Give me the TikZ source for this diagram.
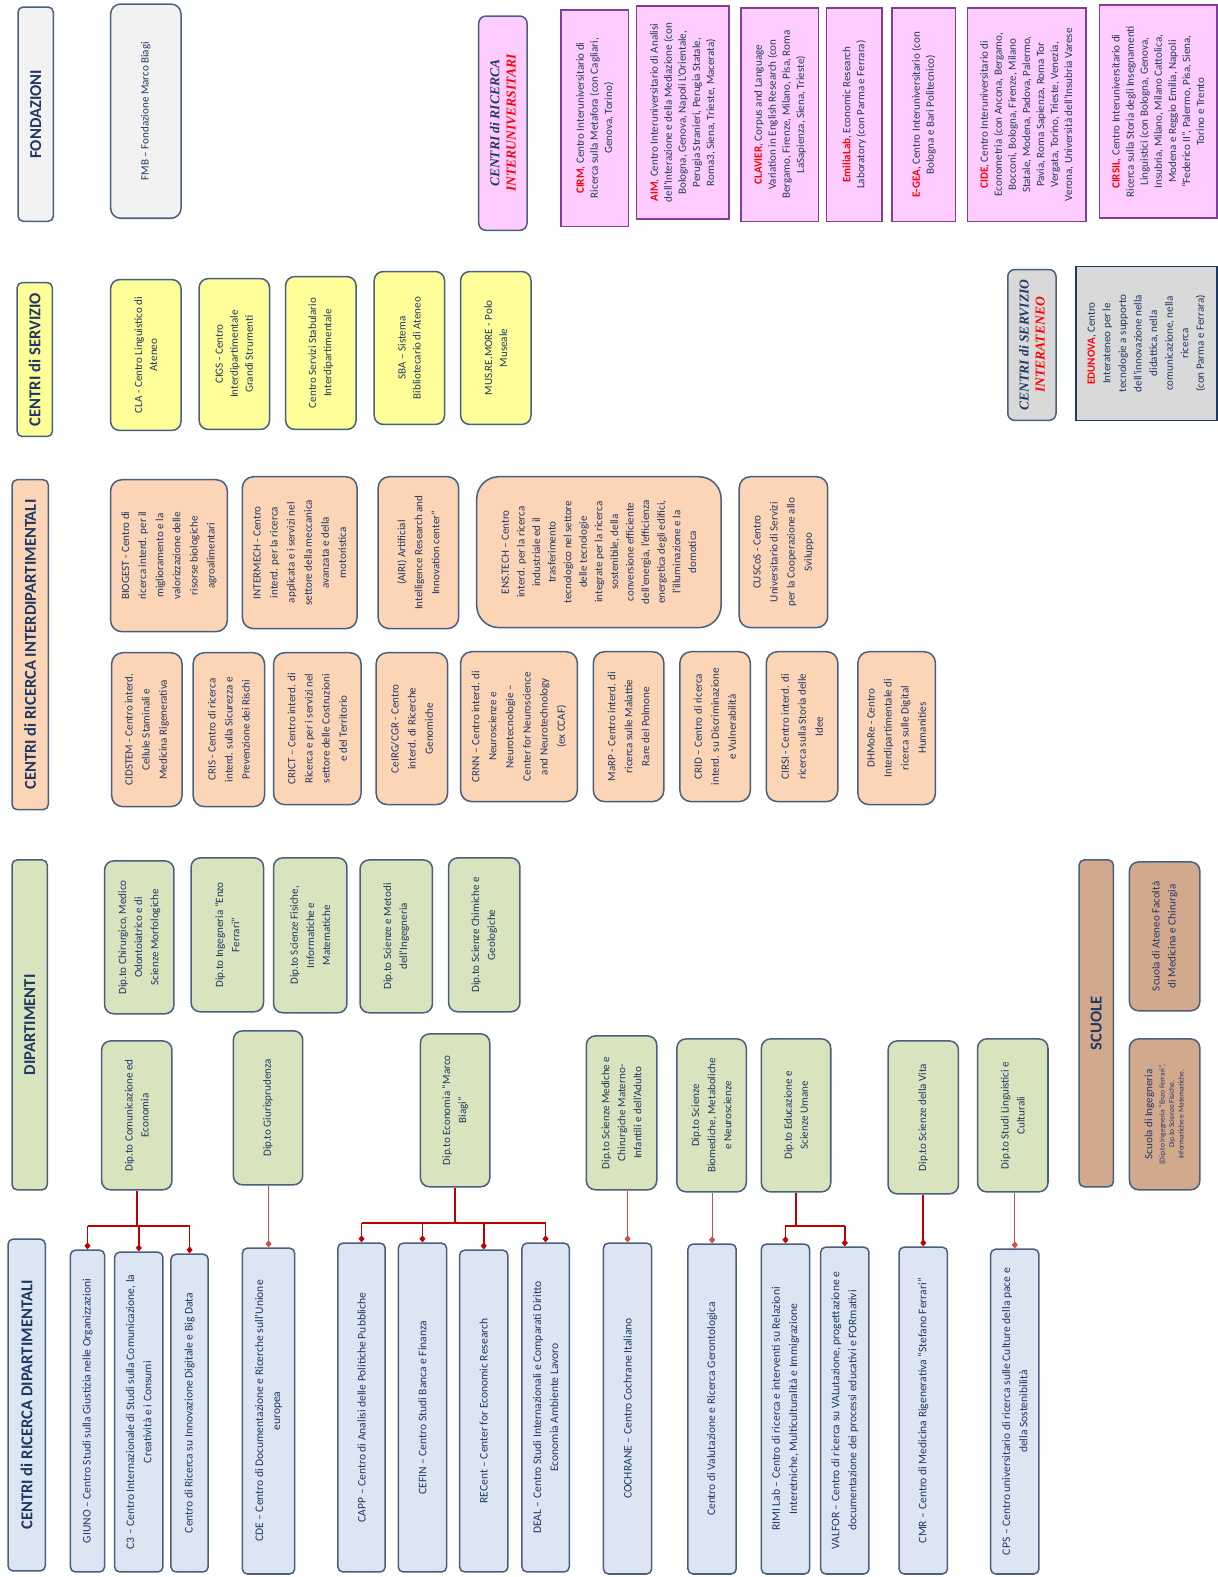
\documentclass[tikz,border=0pt]{standalone}
\usepackage{fontspec}
\setmainfont{Carlito}
\newfontfamily\titleserif{Liberation Serif}
\usetikzlibrary{arrows.meta,calc}
\definecolor{Navy}{HTML}{1F3864}
\definecolor{Edge}{HTML}{4A5F7E}
\definecolor{Sky}{HTML}{DCE6F2}
\definecolor{Sage}{HTML}{D7E4BD}
\definecolor{Peach}{HTML}{FBD5B5}
\definecolor{Canary}{HTML}{FFFF99}
\definecolor{Mist}{HTML}{F2F2F2}
\definecolor{Orchid}{HTML}{FFCCFF}
\definecolor{Plum}{HTML}{7F3F98}
\definecolor{Tan}{HTML}{D3A98E}
\definecolor{Stone}{HTML}{D9D9D9}
\definecolor{Crimson}{HTML}{C00000}
\definecolor{Signal}{HTML}{FF0000}
\newcommand{\redname}[1]{\textcolor{Signal}{\bfseries #1}}
\newcommand{\smallline}[1]{{\fontsize{7.5}{8.5}\selectfont #1}}

\begin{document}
\begin{tikzpicture}[x=1pt,y=-1pt,
    every node/.style={rotate=90,align=center,text=Navy,inner sep=2pt,
      font=\fontsize{11}{15}\selectfont},
    head/.style={draw=Edge,line width=1.5pt,rounded corners=5pt,
      font=\fontsize{16.5}{18}\selectfont\bfseries},
    serifhead/.style={draw=Edge,line width=1.5pt,rounded corners=7pt,
      font=\titleserif\fontsize{13.5}{16}\selectfont\bfseries\itshape},
    leaf/.style={draw=Edge,fill=Sky,line width=1.5pt,rounded corners=5pt,
      font=\fontsize{11.5}{17}\selectfont},
    dept/.style={draw=Edge,fill=Sage,line width=1.5pt,rounded corners=9pt,
      font=\fontsize{11}{16}\selectfont},
    inter/.style={draw=Edge,fill=Peach,line width=1.5pt,rounded corners=11pt,
      font=\fontsize{11}{17}\selectfont},
    serv/.style={draw=Edge,fill=Canary,line width=1.5pt,rounded corners=9pt},
    univ/.style={draw=Plum,fill=Orchid,line width=1.5pt,
      font=\fontsize{11}{14}\selectfont},
    trunk/.style={draw=Crimson,line width=1.6pt},
    flow/.style={-{Diamond[length=7pt,width=6pt]},draw=Crimson,line width=1.6pt},
    flowlite/.style={flow,draw=Crimson!70,line width=1pt}]
  \fill[white] (0,0) rectangle (1211,1568);
  \useasboundingbox (0,0) rectangle (1211,1568);

  % fondazioni, servizi, interuniversitari
  \node[head,fill=Mist,minimum width=213pt,minimum height=35pt] (hfond) at (35.5,113.5) {FONDAZIONI};
  \node[draw=Edge,fill=Mist,line width=1.5pt,rounded corners=10pt,minimum width=213pt,minimum height=70pt] (fmb) at (145,110.5) {FMB – Fondazione Marco Biagi};
  \node[head,fill=Canary,minimum width=153pt,minimum height=35pt] (hserv) at (34.5,357.5) {CENTRI di SERVIZIO};
  \node[serv,minimum width=150pt,minimum height=70pt] (cla) at (145,353) {CLA - Centro Linguistico di\\Ateneo};
  \node[serv,minimum width=150pt,minimum height=70pt] (cigs) at (233,352) {CIGS - Centro\\Interdipartimentale\\Grandi Strumenti};
  \node[serv,minimum width=152pt,minimum height=70pt] (stab) at (319,351) {Centro Servizi Stabulario\\Interdipartimentale};
  \node[serv,minimum width=152pt,minimum height=70pt] (sba) at (407,346) {SBA – Sistema\\Bibliotecario di Ateneo};
  \node[serv,minimum width=152pt,minimum height=70pt] (musre) at (493,346) {MUS.RE.MORE - Polo\\Museale};

  \node[serifhead,fill=Orchid,minimum width=213pt,minimum height=48pt] (huniv) at (500,122.5) {CENTRI di RICERCA\\\textcolor{Signal}{INTERUNIVERSITARI}};
  \node[univ,minimum width=215pt,minimum height=67pt] (cirm) at (591.5,117.5) {\redname{CIRM}, Centro Interuniversitario di\\Ricerca sulla Metafora (con Cagliari,\\Genova, Torino)};
  \node[univ,minimum width=212pt,minimum height=92pt] (aim) at (679,112) {\redname{AIM}, Centro Interuniversitario di Analisi\\dell'Interazione e della Mediazione (con\\Bologna, Genova, Napoli L'Orientale,\\Perugia Stranieri, Perugia Statale,\\Roma3, Siena, Trieste, Macerata)};
  \node[univ,minimum width=212pt,minimum height=77pt] (clavier) at (775.5,114) {\redname{CLAVIER}, Corpus and Language\\Variation in English Research (con\\Bergamo, Firenze, Milano, Pisa, Roma\\LaSapienza, Siena, Trieste)};
  \node[univ,minimum width=212pt,minimum height=55pt] (emilia) at (849.5,114) {\redname{EmiliaLab}, Economic Research\\Laboratory (con Parma e Ferrara)};
  \node[univ,minimum width=212pt,minimum height=63pt] (egea) at (918.5,114) {\redname{E-GEA}, Centro Interuniversitario (con\\Bologna e Bari Politecnico)};
  \node[univ,minimum width=212pt,minimum height=118pt] (cide) at (1021,114) {\redname{CIDE}, Centro Interuniversitario di\\Econometria (con Ancona, Bergamo,\\Bocconi, Bologna, Firenze, Milano\\Statale, Modena, Padova, Palermo,\\Pavia, Roma Sapienza, Roma Tor\\Vergata, Torino, Trieste, Venezia,\\Verona, Università dell'Insubria Varese};
  \node[univ,minimum width=212pt,minimum height=117pt] (cirsil) at (1151.5,111) {\redname{CIRSIL}, Centro Interuniversitario di\\Ricerca sulla Storia degli Insegnamenti\\Linguistici (con Bologna, Genova,\\Insubria, Milano, Milano Cattolica,\\Modena e Reggio Emilia, Napoli\\“Federico II”, Palermo, Pisa, Siena,\\Torino e Trento};

  \node[serifhead,fill=Stone,minimum width=150pt,minimum height=48pt] (hateneo) at (1026,343) {CENTRI di SERVIZIO\\\textcolor{Signal}{INTERATENEO}};
  \node[draw=Navy,fill=Stone,line width=1.5pt,font=\fontsize{11}{15.5}\selectfont,minimum width=153pt,minimum height=140pt] (edunova) at (1140,341.5) {\redname{EDUNOVA}, Centro\\Interateneo per le\\tecnologie a supporto\\dell'innovazione nella\\didattica, nella\\comunicazione, nella\\ricerca\\(con Parma e Ferrara)};

  % centri interdipartimentali
  \node[head,fill=Peach,minimum width=328pt,minimum height=36pt] (hinter) at (30,641) {CENTRI di RICERCA INTERDIPARTIMENTALI};
  \node[inter,minimum width=151pt,minimum height=116pt] (biogest) at (168,552.5) {BIOGEST - Centro di\\ricerca interd. per il\\miglioramento e la\\valorizzazione delle\\risorse biologiche\\agroalimentari};
  \node[inter,minimum width=151pt,minimum height=114pt] (intermech) at (298,549.5) {INTERMECH - Centro\\interd. per la ricerca\\applicata e i servizi nel\\settore della meccanica\\avanzata e della\\motoristica};
  \node[inter,minimum width=151pt,minimum height=80pt] (airi) at (416,549.5) {(AIRI) Artificial\\Intelligence Research and\\Innovation center”};
  \node[inter,rounded corners=22pt,font=\fontsize{11}{15.5}\selectfont,minimum width=150pt,minimum height=243pt] (enstech) at (595.5,549) {ENS.TECH – Centro\\interd. per la ricerca\\industriale ed il\\trasferimento\\tecnologico nel settore\\delle tecnologie\\integrate per la ricerca\\sostenibile, della\\conversione efficiente\\dell'energia, l'efficienza\\energetica degli edifici,\\l'illuminazione e la\\domotica};
  \node[inter,minimum width=150pt,minimum height=88pt] (cuscos) at (779,549) {CUSCoS - Centro\\Universitario di Servizi\\per la Cooperazione allo\\Sviluppo};
  \node[inter,minimum width=153pt,minimum height=70pt] (cidstem) at (146,725.5) {CIDSTEM - Centro interd.\\Cellule Staminali e\\Medicina Rigenerativa};
  \node[inter,minimum width=153pt,minimum height=71pt] (cris) at (227.5,725.5) {CRIS - Centro di ricerca\\interd. sulla Sicurezza e\\Prevenzione dei Rischi};
  \node[inter,minimum width=151pt,minimum height=87pt] (crict) at (315.5,724.5) {CRICT – Centro interd. di\\Ricerca e per i servizi nel\\settore delle Costruzioni\\e del Territorio};
  \node[inter,minimum width=151pt,minimum height=71pt] (ceirg) at (409.5,724.5) {CeIRG/CGR - Centro\\interd. di Ricerche\\Genomiche};
  \node[inter,minimum width=149pt,minimum height=116pt] (crnn) at (516,722.5) {CRNN – Centro interd. di\\Neuroscienze e\\Neurotecnologie –\\Center for Neuroscience\\and Neurotechnology\\(ex CCAF)};
  \node[inter,minimum width=149pt,minimum height=70pt] (marp) at (625,722.5) {MaRP - Centro interd. di\\ricerca sulle Malattie\\Rare del Polmone};
  \node[inter,minimum width=149pt,minimum height=70pt] (crid) at (711,722.5) {CRID – Centro di ricerca\\interd. su Discriminazione\\e Vulnerabilità};
  \node[inter,minimum width=149pt,minimum height=71pt] (cirsi) at (797.5,722.5) {CIRSI - Centro interd. di\\ricerca sulla Storia delle\\Idee};
  \node[inter,minimum width=152pt,minimum height=77pt] (dhmore) at (891.5,724) {DHMoRe - Centro\\Interdipartimentale di\\ricerca sulle Digital\\Humanities};

  % dipartimenti e scuole
  \node[head,fill=Sage,minimum width=328pt,minimum height=35pt] (hdept) at (29.5,1019) {DIPARTIMENTI};
  \node[dept,minimum width=152pt,minimum height=69pt] (chir) at (138.5,932) {Dip.to Chirurgico, Medico\\Odontoiatrico e di\\Scienze Morfologiche};
  \node[dept,minimum width=153pt,minimum height=72pt] (ingf) at (226,929.5) {Dip.to Ingegneria “Enzo\\Ferrari”};
  \node[dept,minimum width=154pt,minimum height=73pt] (fis) at (308.5,930) {Dip.to Scienze Fisiche,\\Informatiche e\\Matematiche};
  \node[dept,minimum width=152pt,minimum height=72pt] (metodi) at (394,931) {Dip.to Scienze e Metodi\\dell'Ingegneria};
  \node[dept,minimum width=153pt,minimum height=71pt] (chim) at (481.5,929.5) {Dip.to Scienze Chimiche e\\Geologiche};
  \node[dept,minimum width=148pt,minimum height=70pt] (comm) at (136,1109) {Dip.to Comunicazione ed\\Economia};
  \node[dept,minimum width=153pt,minimum height=69pt] (giur) at (266.5,1101.5) {Dip.to Giurisprudenza};
  \node[dept,minimum width=152pt,minimum height=69pt] (econ) at (452.5,1104) {Dip.to Economia “Marco\\Biagi”};
  \node[dept,minimum width=153pt,minimum height=70pt] (med) at (618,1106.5) {Dip.to Scienze Mediche e\\Chirurgiche Materno-\\Infantili e dell'Adulto};
  \node[dept,minimum width=152pt,minimum height=69pt] (biomed) at (707.5,1109) {Dip.to Scienze\\Biomediche, Metaboliche\\e Neuroscienze};
  \node[dept,minimum width=152pt,minimum height=69pt] (edu) at (791.5,1109) {Dip.to Educazione e\\Scienze Umane};
  \node[dept,minimum width=152pt,minimum height=70pt] (vita) at (918,1111) {Dip.to Scienze della Vita};
  \node[dept,minimum width=152pt,minimum height=70pt] (ling) at (1007,1109) {Dip.to Studi Linguistici e\\Culturali};
  \node[head,fill=Tan,minimum width=325pt,minimum height=34pt] (hscuole) at (1090,1017.5) {SCUOLE};
  \node[dept,fill=Tan,minimum width=148pt,minimum height=70pt] (scmed) at (1158,931) {Scuola di Ateneo Facoltà\\di Medicina e Chirurgia};
  \node[dept,fill=Tan,minimum width=150pt,minimum height=70pt] (scing) at (1158,1108) {Scuola di Ingegneria\\[-4pt]\smallline{(Dip.to Ingegneria “Enzo Ferrari”,}\\[-6.5pt]\smallline{Dip.to Scienze Fisiche,}\\[-6.5pt]\smallline{Informatiche e Matematiche,}};

  % centri dipartimentali
  \node[head,fill=Sky,minimum width=330pt,minimum height=37pt] (hleaf) at (26.5,1397) {CENTRI di RICERCA DIPARTIMENTALI};
  \node[leaf,minimum width=320pt,minimum height=34pt] (giuno) at (87,1403) {GIUNO – Centro Studi sulla Giustizia nelle Organizzazioni};
  \node[leaf,minimum width=318pt,minimum height=48pt] (cthree) at (138,1404) {C3 – Centro Internazionale di Studi sulla Comunicazione, la\\Creatività e i Consumi};
  \node[leaf,minimum width=316pt,minimum height=37pt] (inno) at (188.5,1405) {Centro di Ricerca su Innovazione Digitale e Big Data};
  \node[leaf,minimum width=324pt,minimum height=52pt] (cde) at (267,1403) {CDE – Centro di Documentazione e Ricerche sull'Unione\\europea};
  \node[leaf,minimum width=327pt,minimum height=47pt] (capp) at (359.5,1399.5) {CAPP – Centro di Analisi delle Politiche Pubbliche};
  \node[leaf,minimum width=327pt,minimum height=48pt] (cefin) at (420,1399.5) {CEFIN – Centro Studi Banca e Finanza};
  \node[leaf,minimum width=320pt,minimum height=48pt] (recent) at (481,1403) {RECent – Center for Economic Research};
  \node[leaf,minimum width=327pt,minimum height=47pt] (deal) at (542.5,1399.5) {DEAL – Centro Studi Internazionali e Comparati Diritto\\Economia Ambiente Lavoro};
  \node[leaf,minimum width=329pt,minimum height=48pt] (cochrane) at (624,1400.5) {COCHRANE – Centro Cochrane Italiano};
  \node[leaf,minimum width=328pt,minimum height=48pt] (valut) at (708,1401) {Centro di Valutazione e Ricerca Gerontologica};
  \node[leaf,minimum width=328pt,minimum height=48pt] (rimi) at (781,1401) {RIMI Lab – Centro di ricerca e interventi su Relazioni\\Interetniche, Multiculturalità e Immigrazione};
  \node[leaf,minimum width=325pt,minimum height=48pt] (valfor) at (840,1402.5) {VALFOR – Centro di ricerca su VALutazione, progettazione e\\documentazione dei processi educativi e FORmativi};
  \node[leaf,minimum width=325pt,minimum height=48pt] (cmr) at (918,1402.5) {CMR – Centro di Medicina Rigenerativa “Stefano Ferrari”};
  \node[leaf,minimum width=323pt,minimum height=48pt] (cps) at (1009,1403.5) {CPS – Centro universitario di ricerca sulle Culture della pace e\\della Sostenibilità};

  % collegamenti
  \coordinate (busA) at ($(comm.west)+(0,35)$);
  \draw[trunk] (comm.west) -- (busA);
  \draw[trunk] (busA -| giuno) -- (busA -| inno);
  \foreach \c in {giuno,cthree,inno} \draw[flow] (busA -| \c) -- (\c.east);
  \draw[flowlite] (cde.east |- giur.west) -- (cde.east);
  \coordinate (busB) at ($(econ.west)+(0,35)$);
  \draw[trunk] (econ.west) -- (busB);
  \draw[trunk] (busB -| capp) -- (busB -| deal);
  \foreach \c in {capp,cefin,recent,deal} \draw[flow] (busB -| \c) -- (\c.east);
  \draw[flowlite] (cochrane.east |- med.west) -- (cochrane.east);
  \draw[flowlite] (valut.east |- biomed.west) -- (valut.east);
  \coordinate (busC) at ($(edu.west)+(0,33)$);
  \draw[trunk] (edu.west) -- (busC);
  \draw[trunk] (busC -| rimi) -- (busC -| valfor);
  \foreach \c in {rimi,valfor} \draw[flow] (busC -| \c) -- (\c.east);
  \draw[flow] (cmr.east |- vita.west) -- (cmr.east);
  \draw[flowlite] (cps.east |- ling.west) -- (cps.east);
\end{tikzpicture}
\end{document}
